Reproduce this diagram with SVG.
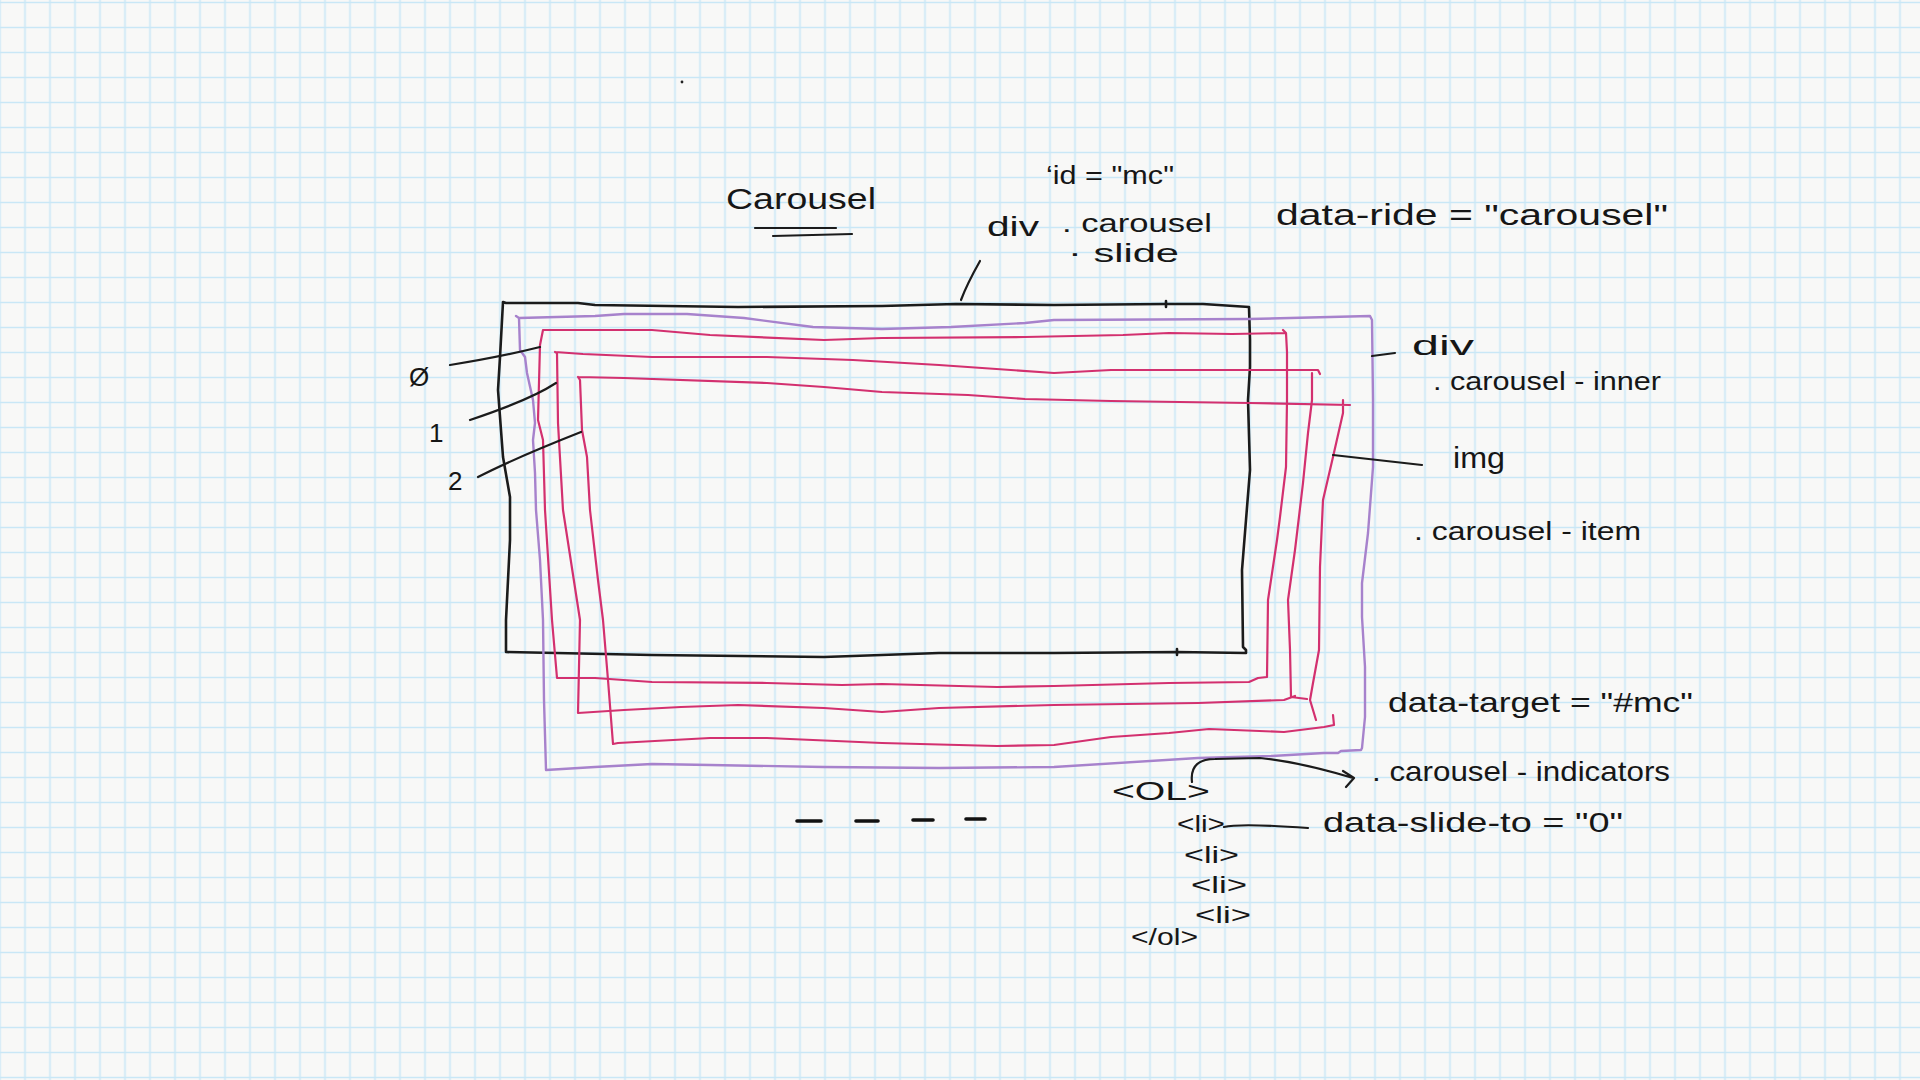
<svg xmlns="http://www.w3.org/2000/svg" width="1920" height="1080" viewBox="0 0 1920 1080">
<defs>
<pattern id="grid" patternUnits="userSpaceOnUse" x="-12.5" y="-10" width="25" height="25">
<path d="M12.5,0V25M0,12.5H25" stroke="#c9e7f6" stroke-width="1.6" fill="none"/>
</pattern>
</defs>
<style>
.blk{fill:none;stroke:#1b1b1b;stroke-width:2.6;stroke-linejoin:round;stroke-linecap:round}
.pur{fill:none;stroke:#a782cc;stroke-width:2.4;stroke-linejoin:round;stroke-linecap:round}
.pnk{fill:none;stroke:#d3306f;stroke-width:2.2;stroke-linejoin:round;stroke-linecap:round}
.ld{fill:none;stroke:#1b1b1b;stroke-width:2.2;stroke-linecap:round;stroke-linejoin:round}
text{font-family:"Liberation Sans","DejaVu Sans",sans-serif;fill:#161616}
.t30{font-size:30px}
.t28{font-size:28px}
.t26{font-size:26px}
.t24{font-size:24px}
</style>
<rect width="1920" height="1080" fill="#f8f8f7"/>
<rect width="1920" height="1080" fill="url(#grid)"/>

<g id="frame-carousel">
<path class="blk" d="M503,302 L506,303 L578,303 L595,305 L738,307 L882,306 L956,304 L1054,305 L1166,304 L1203,304 L1249,307 L1250,340 L1250,367 L1248,400 L1250,470 L1246,520 L1242,570 L1243,647 L1246,650 L1246,653 L1177,652 L1054,653 L939,653 L824,657 L652,655 L506,652 L506,620 L510,540 L510,497 L503,457 L498,390 L500,357 L503,302"/>
<path class="blk" d="M1166,301 L1166,307 M1177,649 L1177,655"/>
</g>

<g id="frame-inner">
<path class="pur" d="M516,316 L519,318 L520,350 L525,357 L527,373 L533,400 L535,423 L533,440 L535,473 L536,510 L540,560 L543,620 L544,700 L546,770 L595,767 L652,764 L710,765 L824,767 L939,768 L1054,767 L1198,758 L1272,756 L1324,753 L1338,753 L1341,751 L1361,750 L1362,748 L1365,717 L1365,667 L1362,617 L1362,583 L1368,533 L1373,467 L1373,400 L1372,320 L1370,316 L1249,319 L1054,320 L1025,323 L951,327 L882,329 L813,327 L744,318 L687,314 L624,314 L595,316 L519,318"/>
</g>

<g id="slide-0">
<path class="pnk" d="M543,330 L652,330 L710,335 L824,340 L882,338 L1025,337 L1123,335 L1169,333 L1232,334 L1286,333 M1283,330 L1286,333 L1287,352 L1287,400 L1286,467 L1280,517 L1277,540 L1268,600 L1267,677 L1258,678 L1249,682 L1169,683 L1054,686 L997,687 L882,684 L842,685 L767,683 L652,682 L595,678 L557,678 L552,620 L545,510 L543,440 L538,420 L540,345 L543,330"/>
</g>

<g id="slide-1">
<path class="pnk" d="M555,352 L583,354 L652,357 L767,357 L853,360 L939,365 L1054,373 L1111,370 L1169,370 L1318,370 L1320,374 M1312,373 L1312,400 L1308,433 L1303,483 L1295,550 L1288,600 L1290,650 L1291,697 L1307,699 M1295,696 L1284,700 L1198,703 L1054,705 L939,708 L882,712 L824,708 L738,705 L681,707 L624,710 L578,713 L580,620 L563,510 L558,423 L557,353 L555,352"/>
</g>

<g id="slide-2">
<path class="pnk" d="M578,377 L624,378 L767,383 L824,387 L882,392 L968,395 L1025,399 L1111,401 L1249,403 L1350,405 M1343,400 L1343,413 L1333,457 L1323,500 L1320,567 L1319,650 L1313,683 L1310,700 L1316,720 M1333,715 L1334,725 L1324,727 L1284,732 L1209,729 L1169,733 L1111,737 L1054,745 L997,746 L882,743 L767,738 L710,738 L618,743 L613,744 L608,680 L603,620 L598,580 L590,510 L587,457 L582,430 L580,380 L578,377"/>
</g>

<g id="connectors">
<path class="ld" d="M961,300 Q967,284 980,261"/>
<path class="ld" d="M450,365 Q500,357 540,347"/>
<path class="ld" d="M470,420 Q530,400 556,383"/>
<path class="ld" d="M478,477 Q515,458 581,432"/>
<path class="ld" d="M1372,356 L1395,353"/>
<path class="ld" d="M1333,455 L1422,465"/>
<path class="ld" d="M1224,827 Q1240,823 1308,828"/>
<path class="ld" d="M1192,782 C1190,765 1200,759 1215,759 L1260,758 Q1300,762 1353,778 M1343,771 L1354,778 L1346,787"/>
<path class="ld" d="M755,228 L836,228 M773,236 L852,234"/>
<g stroke="#111" stroke-width="3.6" stroke-linecap="round">
<path d="M797,821 H821 M856,821 H878 M913,820 H933 M966,819 H985"/>
</g>
<circle cx="682" cy="82" r="1.4" fill="#222"/>
</g>

<g id="labels">
<text class="t30" x="726" y="209" textLength="150" lengthAdjust="spacingAndGlyphs">Carousel</text>
<text class="t26" x="1046" y="184" textLength="128" lengthAdjust="spacingAndGlyphs">‘id = "mc"</text>
<text class="t28" x="987" y="236" textLength="52" lengthAdjust="spacingAndGlyphs">div</text>
<text class="t26" x="1062" y="232" textLength="150" lengthAdjust="spacingAndGlyphs">. carousel</text>
<text class="t26" x="1068" y="262" textLength="111" lengthAdjust="spacingAndGlyphs">· slide</text>
<text class="t30" x="1276" y="225" textLength="392" lengthAdjust="spacingAndGlyphs">data-ride = "carousel"</text>
<text class="t28" x="1412" y="355" textLength="62" lengthAdjust="spacingAndGlyphs">div</text>
<text class="t26" x="1433" y="390" textLength="228" lengthAdjust="spacingAndGlyphs">. carousel - inner</text>
<text class="t30" x="1453" y="468" textLength="52" lengthAdjust="spacingAndGlyphs">img</text>
<text class="t26" x="1414" y="540" textLength="227" lengthAdjust="spacingAndGlyphs">. carousel - item</text>
<text class="t28" x="1388" y="712" textLength="305" lengthAdjust="spacingAndGlyphs">data-target = "#mc"</text>
<text class="t28" x="1372" y="781" textLength="298" lengthAdjust="spacingAndGlyphs">. carousel - indicators</text>
<text class="t26" x="1112" y="800" textLength="98" lengthAdjust="spacingAndGlyphs">&lt;OL&gt;</text>
<text class="t24" x="1177" y="832" textLength="48" lengthAdjust="spacingAndGlyphs">&lt;li&gt;</text>
<text class="t28" x="1323" y="832" textLength="300" lengthAdjust="spacingAndGlyphs">data-slide-to = "0"</text>
<text class="t24" x="1184" y="863" textLength="55" lengthAdjust="spacingAndGlyphs">&lt;li&gt;</text>
<text class="t24" x="1191" y="893" textLength="56" lengthAdjust="spacingAndGlyphs">&lt;li&gt;</text>
<text class="t24" x="1195" y="923" textLength="56" lengthAdjust="spacingAndGlyphs">&lt;li&gt;</text>
<text class="t24" x="1131" y="945" textLength="67" lengthAdjust="spacingAndGlyphs">&lt;/ol&gt;</text>
<text class="t26" x="409" y="386">Ø</text>
<text class="t26" x="429" y="442">1</text>
<text class="t26" x="448" y="490">2</text>
</g>
</svg>
